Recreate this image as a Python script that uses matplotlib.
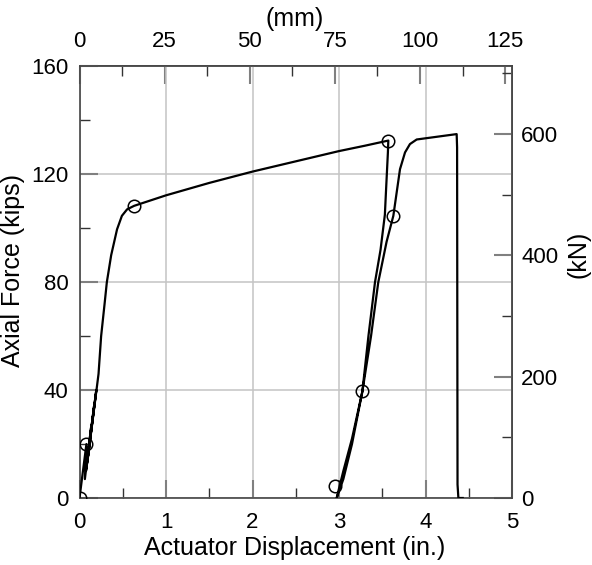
import matplotlib as m
m.use("Agg")
import matplotlib.pyplot as plt
from matplotlib.ticker import MultipleLocator

plt.rcParams['font.family'] = ['Liberation Sans', 'DejaVu Sans']

# test record: actuator displacement (in.) vs axial force (kips)
disp_in = [0.0, 0.08, 0.062, 0.137, 0.075, 0.168, 0.084, 0.194, 0.093, 0.22,
           0.25, 0.29, 0.316, 0.366, 0.434, 0.49, 0.55, 0.631,
           1.0, 1.5, 2.0, 2.5, 3.0, 3.3, 3.57,
           3.565, 3.545, 3.53, 3.48, 3.416, 3.34, 3.27, 3.15, 3.05, 2.973,
           3.05, 3.15, 3.27, 3.37, 3.454, 3.55, 3.628, 3.705, 3.763, 3.82, 3.898,
           4.36, 4.365, 4.37, 4.38, 4.43]
force_kips = [0.0, 20.0, 7.0, 27.0, 10.0, 34.0, 12.0, 40.0, 14.0, 46.0,
              60.0, 72.0, 80.0, 90.0, 99.6, 104.6, 107.0, 108.3,
              112.2, 116.8, 121.0, 124.8, 128.6, 130.6, 132.5,
              128.0, 115.0, 105.0, 92.0, 80.0, 60.0, 39.5, 20.0, 7.0, 0.0,
              10.0, 22.0, 39.5, 60.0, 80.0, 95.0, 104.6, 121.9, 128.1, 131.2, 132.9,
              134.9, 130.0, 5.0, 0.0, 0.0]

# marked points
mark_disp = [0.0, 0.08, 0.631, 3.57, 3.27, 2.954, 3.628]
mark_force = [0.0, 20.0, 108.3, 132.5, 39.5, 4.6, 104.6]

KN_PER_KIP = 4.448222
MM_PER_IN = 25.4

fig = plt.figure(figsize=(5.92, 5.65), dpi=100)
ax = fig.add_axes([0.1343, 0.1186, 0.7306, 0.7639])

ax.plot(disp_in, force_kips, color='black', lw=1.6, solid_joinstyle='round', zorder=3)
ax.plot(mark_disp, mark_force, 'o', ms=9, mfc='none', mec='black', mew=1.1, zorder=4)

ax.set_xlim(0, 5)
ax.set_ylim(0, 160)
ax.xaxis.set_major_locator(MultipleLocator(1))
ax.xaxis.set_minor_locator(MultipleLocator(0.5))
ax.yaxis.set_major_locator(MultipleLocator(40))
ax.yaxis.set_minor_locator(MultipleLocator(20))
ax.grid(True, which='major', color='#c4c4c4', lw=1.1, zorder=0)

major_kw = dict(direction='in', length=13, width=1.5, color='#808080',
                labelsize=16, labelcolor='black')
minor_kw = dict(direction='in', length=7, width=1.0, color='#333333')
ax.tick_params(axis='x', which='major', pad=10, top=False, **major_kw)
ax.tick_params(axis='y', which='major', pad=8, right=False, **major_kw)
ax.tick_params(which='minor', top=False, right=False, **minor_kw)

for s in ax.spines.values():
    s.set_color('#444444')
    s.set_linewidth(1.2)

# top axis in mm
top = ax.secondary_xaxis('top', functions=(lambda x: x * MM_PER_IN, lambda x: x / MM_PER_IN))
top.xaxis.set_major_locator(MultipleLocator(25))
top.xaxis.set_minor_locator(MultipleLocator(12.5))
top.tick_params(which='major', pad=10, **major_kw)
top.tick_params(which='minor', **minor_kw)
top.spines['top'].set_color('#444444')
top.spines['top'].set_linewidth(1.2)

# right axis in kN
right = ax.secondary_yaxis('right', functions=(lambda y: y * KN_PER_KIP, lambda y: y / KN_PER_KIP))
right.yaxis.set_major_locator(MultipleLocator(200))
right.yaxis.set_minor_locator(MultipleLocator(100))
right.tick_params(which='major', pad=6.5, **major_kw)
right.tick_params(which='minor', **minor_kw)
right.spines['right'].set_color('#444444')
right.spines['right'].set_linewidth(1.2)

# axis titles
fig.text(0.4975, 0.0301, 'Actuator Displacement (in.)', fontsize=18, ha='center', va='center')
fig.text(0.022, 0.5204, 'Axial Force (kips)', fontsize=18, rotation=90, ha='center', va='center')
fig.text(0.498, 0.9664, '(mm)', fontsize=18, ha='center', va='center')
fig.text(0.978, 0.5504, '(kN)', fontsize=18, rotation=90, ha='center', va='center')

fig.savefig('out.png', dpi=100)
